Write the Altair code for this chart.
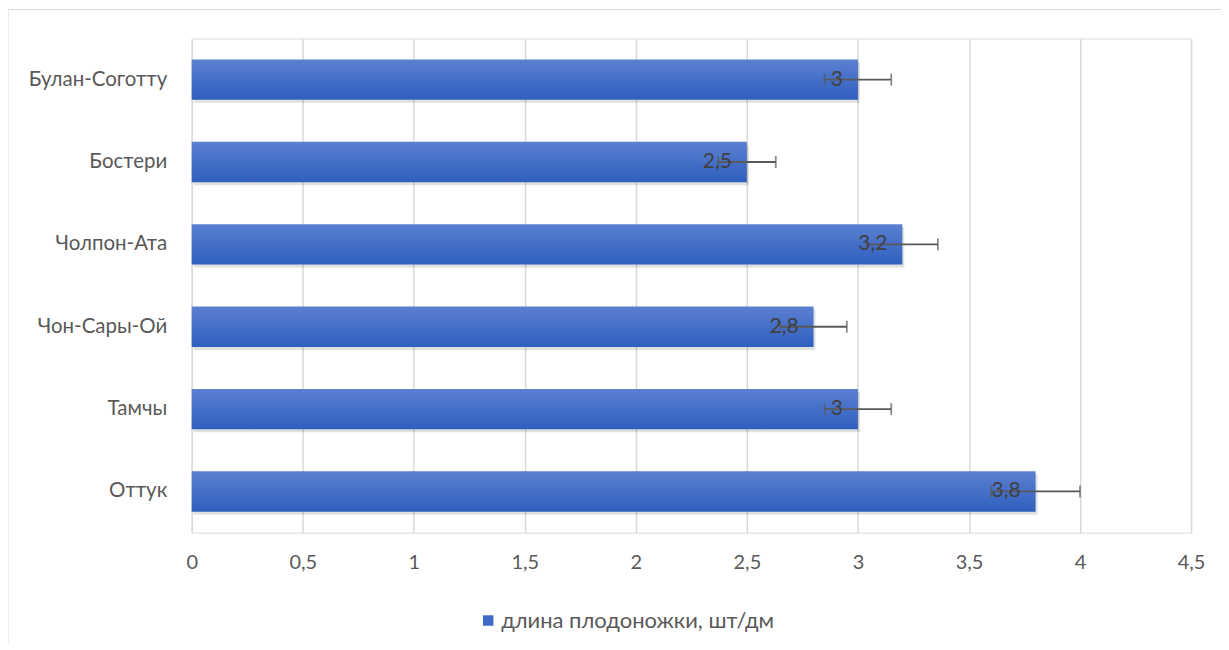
import altair as alt
import pandas as pd

categories = ["Булан-Соготту", "Бостери", "Чолпон-Ата", "Чон-Сары-Ой", "Тамчы", "Оттук"]
values = [3.0, 2.5, 3.2, 2.8, 3.0, 3.8]
errors = [0.15, 0.13, 0.16, 0.15, 0.15, 0.2]
labels = ["3", "2,5", "3,2", "2,8", "3", "3,8"]
series_name = "длина плодоножки, шт/дм"

df = pd.DataFrame({
    "cat": categories,
    "val": values,
    "err": errors,
    "lab": labels,
    "series": [series_name] * len(categories),
})
df["lo"] = df["val"] - df["err"]
df["hi"] = df["val"] + df["err"]

W, H = 1001, 495
FONT = "Lato"
GRAY = "#595959"

y_enc = alt.Y("cat:N", sort=categories, title=None,
              scale=alt.Scale(paddingInner=0.51, paddingOuter=0.255),
              axis=alt.Axis(labelFontSize=20.5, labelColor=GRAY, labelFont=FONT,
                            ticks=False, domain=False, labelPadding=25, grid=False,
                            labelLimit=300))
x_scale = alt.Scale(domain=[0, 4.5], nice=False)

base = alt.Chart(df)

border = base.mark_rect(fill=None, stroke="#d9d9d9", strokeWidth=1).encode(
    x=alt.value(-184), x2=alt.value(1100), y=alt.value(-29), y2=alt.value(700)
).transform_filter(alt.datum.cat == categories[0])

shadow = base.mark_bar(color="#000000", opacity=0.12, xOffset=2, yOffset=3).encode(
    x=alt.X("val:Q", scale=x_scale), y=y_enc
)

gradient = alt.Gradient(
    gradient="linear",
    stops=[alt.GradientStop(color="#5b80d1", offset=0),
           alt.GradientStop(color="#2f5fbf", offset=1)],
    x1=0, x2=0, y1=0, y2=1,
)

bars = base.mark_bar(fill=gradient).encode(
    x=alt.X("val:Q", scale=x_scale, title=None,
            axis=alt.Axis(values=[0, 0.5, 1, 1.5, 2, 2.5, 3, 3.5, 4, 4.5],
                          labelExpr="replace(format(datum.value, ''), '.', ',')",
                          labelFontSize=20, labelColor=GRAY, labelFont=FONT,
                          labelFlush=False,
                          ticks=False, domain=False, labelPadding=20,
                          grid=True, gridColor="#d9d9d9", gridWidth=1.5)),
    y=y_enc,
    color=alt.Color("series:N", scale=alt.Scale(range=["#3f6ac8"]), title=None,
                    legend=alt.Legend(orient="none", legendX=286, legendY=572,
                                      symbolType="square", symbolSize=110,
                                      labelFontSize=22, labelColor=GRAY, labelFont=FONT,
                                      symbolStrokeWidth=0, labelLimit=500,
                                      labelOffset=2)),
)

whisker = base.mark_rule(color=GRAY, strokeWidth=1.8).encode(
    x=alt.X("lo:Q", scale=x_scale), x2="hi:Q", y=y_enc
)
caps_lo = base.mark_tick(color=GRAY, thickness=1.8, size=12).encode(
    x=alt.X("lo:Q", scale=x_scale), y=y_enc
)
caps_hi = base.mark_tick(color=GRAY, thickness=1.8, size=12).encode(
    x=alt.X("hi:Q", scale=x_scale), y=y_enc
)

text = base.mark_text(align="right", baseline="middle", dx=-15, fontSize=21,
                      font=FONT, color="#404040").encode(
    x=alt.X("val:Q", scale=x_scale), y=y_enc, text="lab:N"
)

chart = alt.layer(border, shadow, bars, whisker, caps_lo, caps_hi, text).properties(
    width=W, height=H,
    autosize=alt.AutoSizeParams(type="none"),
    padding={"left": 184, "top": 30, "right": 30, "bottom": 110},
).configure_view(stroke=None).configure(background="white")

chart.save("out.html", embed_options={"renderer": "svg", "actions": False})
